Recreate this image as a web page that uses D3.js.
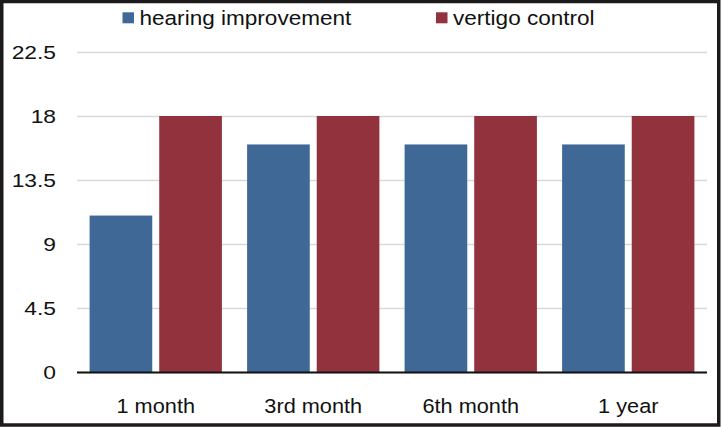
<!DOCTYPE html>
<html>
<head>
<meta charset="utf-8">
<script src="https://cdn.jsdelivr.net/npm/d3@7"></script>
<style>
  html, body { margin: 0; padding: 0; background: #fff; }
  svg { display: block; font-family: "Liberation Sans", Arial, sans-serif; }
</style>
</head>
<body>
<svg id="chart" width="721" height="427"></svg>
<script>
const categories = ["1 month", "3rd month", "6th month", "1 year"];
const seriesNames = ["hearing improvement", "vertigo control"];
const hearingImprovement = [11, 16, 16, 16];
const vertigoControl = [18, 18, 18, 18];
const yTicks = [0, 4.5, 9, 13.5, 18, 22.5];
const colors = ["#3f6896", "#91323c"];

const seriesValues = [hearingImprovement, vertigoControl];
const W = 721, H = 427;
const margin = { left: 77, right: 14, top: 52, bottom: 55 };
const svg = d3.select("#chart");

// frame
svg.append("rect").attr("x", 1.75).attr("y", 1.5).attr("width", W - 4).attr("height", H - 3.5)
  .attr("fill", "none").attr("stroke", "#1c1a1b").attr("stroke-width", 3.5);

const x0 = d3.scaleBand().domain(categories).range([margin.left, W - margin.right])
  .paddingInner(0.16).paddingOuter(0.08);
const x1 = d3.scaleBand().domain(seriesNames).range([0, x0.bandwidth()]).paddingInner(0.1);
const y = d3.scaleLinear().domain([0, 22.5]).range([372, 52]);

// gridlines
const yAxis = d3.axisLeft(y).tickValues(yTicks).tickSize(-(W - margin.right - margin.left)).tickFormat(d => d);
const gy = svg.append("g").attr("transform", `translate(${margin.left},0)`).call(yAxis);
gy.select(".domain").remove();
gy.selectAll(".tick line").attr("stroke", "#d9d9d9").attr("stroke-width", 1.5);
gy.selectAll(".tick text").attr("x", -21).attr("font-size", 19).attr("fill", "#111")
  .attr("font-family", "'Liberation Sans', Arial, sans-serif");

// bars
const groups = svg.append("g").selectAll("g").data(categories).join("g")
  .attr("transform", d => `translate(${x0(d)},0)`);
groups.selectAll("rect").data((c, i) => seriesNames.map((s, j) => ({ s, v: seriesValues[j][i], j })))
  .join("rect")
  .attr("x", d => x1(d.s)).attr("width", x1.bandwidth())
  .attr("y", d => y(d.v)).attr("height", d => y(0) - y(d.v))
  .attr("fill", d => colors[d.j]);

// baseline
svg.append("line").attr("x1", margin.left).attr("x2", W - margin.right)
  .attr("y1", y(0) + 0.5).attr("y2", y(0) + 0.5).attr("stroke", "#111").attr("stroke-width", 2);

// x axis labels
const xAxis = d3.axisBottom(x0).tickSize(0).tickPadding(0);
const gx = svg.append("g").attr("transform", `translate(0,${y(0)})`).call(xAxis);
gx.select(".domain").remove();
gx.selectAll(".tick text").attr("y", 0).attr("dy", "41px").attr("font-size", 20.5).attr("fill", "#111")
  .attr("font-family", "'Liberation Sans', Arial, sans-serif");

// legend
const legendX = [122.5, 436];
const leg = svg.append("g").selectAll("g").data(seriesNames).join("g")
  .attr("transform", (d, i) => `translate(${legendX[i]},0)`);
leg.append("rect").attr("x", 0).attr("y", 12.3).attr("width", 11.5).attr("height", 11)
  .attr("fill", (d, i) => colors[i]);
leg.append("text").attr("class", "legtext").attr("x", 17).attr("y", 24.5).attr("font-size", 20.5)
  .attr("fill", "#111").text(d => d);

// slight horizontal stretch of text, as in the reference
function stretch(sel, f) {
  sel.each(function () {
    const n = this.getComputedTextLength();
    d3.select(this).attr("textLength", n * f).attr("lengthAdjust", "spacingAndGlyphs");
  });
}
stretch(gy.selectAll(".tick text"), 1.2);
stretch(gx.selectAll(".tick text"), 1.06);
stretch(leg.selectAll("text"), 1.1);
</script>
</body>
</html>
